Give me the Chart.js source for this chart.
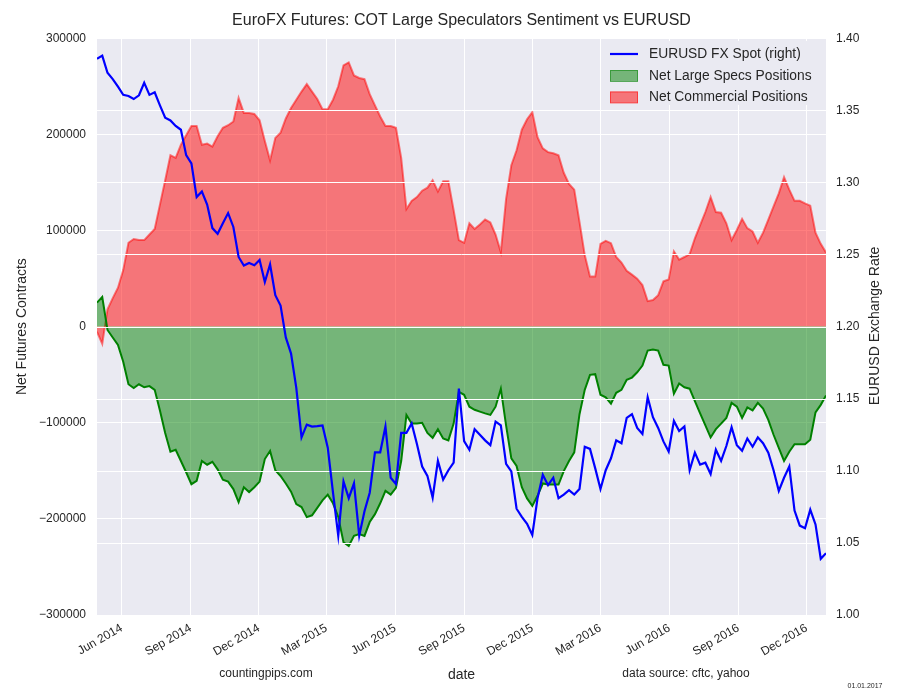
<!DOCTYPE html>
<html>
<head>
<meta charset="utf-8">
<title>EuroFX Futures COT</title>
<script src="https://cdn.jsdelivr.net/npm/chart.js@4.4.1/dist/chart.umd.min.js"></script>
<style>
  body { margin: 0; background: #ffffff; }
  canvas { display: block; }
</style>
</head>
<body>
<canvas id="cotChart" width="900" height="700"></canvas>
<script>
// weekly COT reports, first one on Tue 29 Apr 2014
var firstWeek = Date.UTC(2014, 3, 29);

var eurusd = [
  1.3858, 1.3879, 1.3760, 1.3716, 1.3664, 1.3607, 1.3599, 1.3578, 1.3604, 1.3690,
  1.3607, 1.3625, 1.3534, 1.3448, 1.3430, 1.3391, 1.3365, 1.3189, 1.3132, 1.2898,
  1.2937, 1.2846, 1.2683, 1.2644, 1.2717, 1.2787, 1.2691, 1.2483, 1.2423, 1.2441,
  1.2426, 1.2462, 1.2309, 1.2431, 1.2218, 1.2146, 1.1925, 1.1813, 1.1575, 1.1232,
  1.1320, 1.1307, 1.1310, 1.1315, 1.1160, 1.0848, 1.0550, 1.0926, 1.0810, 1.0913,
  1.0550, 1.0719, 1.0848, 1.1128, 1.1128, 1.1307, 1.0952, 1.0908, 1.1263, 1.1263,
  1.1328, 1.1186, 1.1030, 1.0965, 1.0814, 1.1069, 1.0939, 1.1004, 1.1056, 1.1570,
  1.1206, 1.1146, 1.1289, 1.1250, 1.1211, 1.1178, 1.1341, 1.1315, 1.1048, 1.0996,
  1.0737, 1.0680, 1.0633, 1.0555, 1.0810, 1.0973, 1.0900, 1.0952, 1.0810, 1.0835,
  1.0866, 1.0835, 1.0874, 1.1167, 1.1152, 1.1017, 1.0874, 1.1004, 1.1087, 1.1211,
  1.1191, 1.1367, 1.1393, 1.1297, 1.1255, 1.1510, 1.1372, 1.1297, 1.1204, 1.1134,
  1.1346, 1.1276, 1.1307, 1.1004, 1.1126, 1.1043, 1.1056, 1.0978, 1.1146, 1.1069,
  1.1172, 1.1302, 1.1178, 1.1139, 1.1224, 1.1167, 1.1232, 1.1191, 1.1126, 1.1004,
  1.0861, 1.0952, 1.1030, 1.0724, 1.0620, 1.0602, 1.0731, 1.0628, 1.0390, 1.0428
];

var largeSpecs = [
  24900, 30800, -3500, -11300, -19100, -36600, -60000, -63900, -60000, -63100,
  -61900, -65800, -87200, -110600, -130100, -128100, -139800, -151500, -163900, -160400,
  -139800, -143700, -140600, -148500, -159300, -161200, -169000, -182600, -167100, -172100,
  -167100, -161200, -137800, -129300, -149500, -155400, -163200, -171700, -184600, -187700,
  -198200, -196300, -188500, -180700, -174800, -183800, -198000, -224300, -228200, -217700,
  -215700, -217700, -203300, -195100, -183800, -170900, -174800, -167800, -139800, -91900,
  -100900, -100900, -100100, -110600, -115700, -106700, -116400, -118400, -100900, -67800,
  -70900, -83300, -86500, -88400, -90300, -91900, -83300, -64600, -102800, -137100,
  -144900, -167100, -178700, -186500, -176000, -163200, -164300, -164300, -164300, -150300,
  -139800, -130800, -91100, -65800, -50200, -49500, -70900, -73600, -80200, -68900,
  -65800, -55300, -53000, -47500, -40500, -24900, -23800, -24900, -39700, -40500,
  -69700, -59200, -63100, -64600, -77500, -90300, -102800, -115300, -106700, -100900,
  -95000, -79400, -83300, -95000, -84100, -87200, -79400, -85300, -97000, -112500,
  -126200, -139800, -130100, -122300, -122300, -122300, -117600, -89200, -81400, -71700
];

var commercials = [
  -5400, -17900, 17900, 29600, 40500, 58800, 87200, 91100, 90000, 90000,
  95800, 101600, 126900, 152300, 178300, 175600, 189200, 199000, 208700, 208700,
  189200, 190400, 187300, 198000, 206800, 209500, 213400, 237900, 222300, 222300,
  221200, 214600, 193100, 172900, 196300, 201700, 216500, 227400, 236000, 244500,
  252300, 244500, 236800, 226200, 226200, 236000, 250000, 271800, 274900, 261300,
  258600, 257400, 241800, 230100, 218500, 208700, 208700, 206800, 175600, 122300,
  130800, 134700, 141400, 144500, 152300, 140600, 151100, 151100, 121100, 90000,
  87200, 107500, 101600, 106300, 111400, 108300, 95800, 77500, 132800, 167800,
  183400, 204800, 215700, 223100, 197000, 185400, 181500, 180300, 178300, 160000,
  148400, 142500, 109000, 74400, 52200, 52200, 86100, 89200, 86800, 72400,
  66600, 58000, 54100, 49800, 43200, 26500, 27600, 32700, 47100, 49100,
  78300, 69700, 72400, 75500, 91900, 105500, 119200, 134700, 119200, 118400,
  107500, 90000, 100500, 112100, 102400, 98900, 87200, 97700, 111400, 125000,
  138600, 155400, 142500, 130800, 130800, 128100, 125800, 97700, 86100, 77100
];

var tickLabels = ["Jun 2014", "Sep 2014", "Dec 2014", "Mar 2015", "Jun 2015", "Sep 2015",
  "Dec 2015", "Mar 2016", "Jun 2016", "Sep 2016", "Dec 2016"];

var monthIndex = { Mar: 2, Jun: 5, Sep: 8, Dec: 11 };
var tickDates = tickLabels.map(function(l) {
  var p = l.split(" ");
  return Date.UTC(+p[1], monthIndex[p[0]], 1);
});

var weekMs = 7 * 24 * 3600 * 1000;
var weekDates = eurusd.map(function(v, i) {
  return firstWeek + i * weekMs;
});

function points(values) {
  return values.map(function(v, i) {
    return { x: weekDates[i], y: v };
  });
}

var textColor = "#262626";
var fontFamily = "'Liberation Sans', Arial, sans-serif";
Chart.defaults.font.family = fontFamily;
Chart.defaults.color = textColor;

var plotBackground = {
  id: "plotBackground",
  beforeDraw: function(chart) {
    var a = chart.chartArea;
    var c = chart.ctx;
    c.save();
    c.fillStyle = "#EAEAF2";
    c.fillRect(a.left, a.top, a.right - a.left, a.bottom - a.top);
    c.restore();
  }
};

// right-axis grid sits over the filled areas but under the EURUSD line
var rightGrid = {
  id: "rightGrid",
  beforeDatasetDraw: function(chart, args) {
    if (args.index !== 0) return;
    var a = chart.chartArea;
    var y2 = chart.scales.y2;
    var c = chart.ctx;
    c.save();
    c.strokeStyle = "#ffffff";
    c.lineWidth = 1;
    y2.ticks.forEach(function(t) {
      var y = Math.round(y2.getPixelForValue(t.value)) + 0.5;
      c.beginPath();
      c.moveTo(a.left, y);
      c.lineTo(a.right, y);
      c.stroke();
    });
    c.restore();
  }
};

var extras = {
  id: "extras",
  afterDraw: function(chart) {
    var c = chart.ctx;
    c.save();

    // legend
    c.fillStyle = "#EAEAF2";
    c.fillRect(603, 41, 219, 64);
    c.strokeStyle = "#0000ff";
    c.lineWidth = 2.2;
    c.beginPath();
    c.moveTo(610, 54);
    c.lineTo(638, 54);
    c.stroke();
    c.lineWidth = 1;
    c.fillStyle = "rgba(0,128,0,0.5)";
    c.fillRect(610, 70, 28, 11.5);
    c.strokeStyle = "rgba(0,128,0,0.5)";
    c.strokeRect(610.5, 70.5, 27, 11);
    c.fillStyle = "rgba(255,0,0,0.5)";
    c.fillRect(610, 91.5, 28, 11.5);
    c.strokeStyle = "rgba(255,0,0,0.5)";
    c.strokeRect(610.5, 92, 27, 11);

    c.fillStyle = textColor;
    c.font = "13.8px " + fontFamily;
    c.textAlign = "left";
    c.textBaseline = "middle";
    c.fillText("EURUSD FX Spot (right)", 649, 54);
    c.fillText("Net Large Specs Positions", 649, 76);
    c.fillText("Net Commercial Positions", 649, 97);

    // right axis title, reads bottom to top
    c.save();
    c.translate(875, 326);
    c.rotate(-Math.PI / 2);
    c.textAlign = "center";
    c.font = "14px " + fontFamily;
    c.fillText("EURUSD Exchange Rate", 0, 0);
    c.restore();

    // footer
    c.textAlign = "center";
    c.font = "12px " + fontFamily;
    c.fillText("countingpips.com", 266, 674);
    c.fillText("data source: cftc, yahoo", 686, 674);
    c.font = "7px " + fontFamily;
    c.fillText("01.01.2017", 865, 686);
    c.restore();
  }
};

document.addEventListener("DOMContentLoaded", function() {
  var ctx = document.getElementById("cotChart").getContext("2d");
  new Chart(ctx, {
    type: "line",
    data: {
      datasets: [{
        label: "EURUSD FX Spot (right)",
        data: points(eurusd),
        yAxisID: "y2",
        borderColor: "#0000ff",
        borderWidth: 2.2,
        pointRadius: 0,
        fill: false,
        order: 0
      }, {
        label: "Net Large Specs Positions",
        data: points(largeSpecs),
        yAxisID: "y",
        borderColor: "#008000",
        borderWidth: 2,
        backgroundColor: "rgba(0,128,0,0.5)",
        pointRadius: 0,
        fill: "origin",
        order: 1
      }, {
        label: "Net Commercial Positions",
        data: points(commercials),
        yAxisID: "y",
        borderColor: "rgba(255,0,0,0.5)",
        borderWidth: 2,
        backgroundColor: "rgba(255,0,0,0.5)",
        pointRadius: 0,
        fill: "origin",
        order: 2
      }]
    },
    options: {
      responsive: false,
      animation: false,
      devicePixelRatio: 1,
      layout: { padding: 0 },
      plugins: {
        legend: { display: false },
        tooltip: { enabled: false },
        title: {
          display: true,
          fullSize: false,
          text: "EuroFX Futures: COT Large Speculators Sentiment vs EURUSD",
          color: textColor,
          font: { size: 16, weight: "normal" },
          padding: { top: 11, bottom: 8 }
        }
      },
      scales: {
        x: {
          type: "linear",
          min: weekDates[0],
          max: weekDates[weekDates.length - 1],
          grid: { color: "#ffffff", lineWidth: 1, drawTicks: false },
          border: { display: false },
          ticks: {
            autoSkip: false,
            minRotation: 30,
            maxRotation: 30,
            padding: 6,
            font: { size: 12 },
            callback: function(v) {
              var i = tickDates.indexOf(v);
              return i < 0 ? "" : tickLabels[i];
            }
          },
          afterBuildTicks: function(scale) {
            scale.ticks = tickDates.map(function(d) { return { value: d }; });
          },
          afterFit: function(scale) { scale.height = 85; },
          title: {
            display: true,
            text: "date",
            font: { size: 14 },
            padding: { top: 0, bottom: 16 }
          }
        },
        y: {
          position: "left",
          min: -300000,
          max: 300000,
          grid: { color: "#ffffff", lineWidth: 1, drawTicks: false },
          border: { display: false },
          ticks: {
            stepSize: 100000,
            padding: 11,
            font: { size: 12 },
            callback: function(v) {
              return v < 0 ? "\u2212" + Math.abs(v) : String(v);
            }
          },
          afterFit: function(scale) { scale.width = 97; },
          title: {
            display: true,
            text: "Net Futures Contracts",
            font: { size: 14 },
            padding: { top: 14, bottom: 0 }
          }
        },
        y2: {
          position: "right",
          min: 1.0,
          max: 1.4,
          grid: { display: false, drawTicks: false },
          border: { display: false },
          ticks: {
            stepSize: 0.05,
            padding: 10,
            font: { size: 12 },
            callback: function(v) { return v.toFixed(2); }
          },
          afterFit: function(scale) { scale.width = 74; }
        }
      }
    },
    plugins: [plotBackground, rightGrid, extras]
  });
});
</script>
</body>
</html>
